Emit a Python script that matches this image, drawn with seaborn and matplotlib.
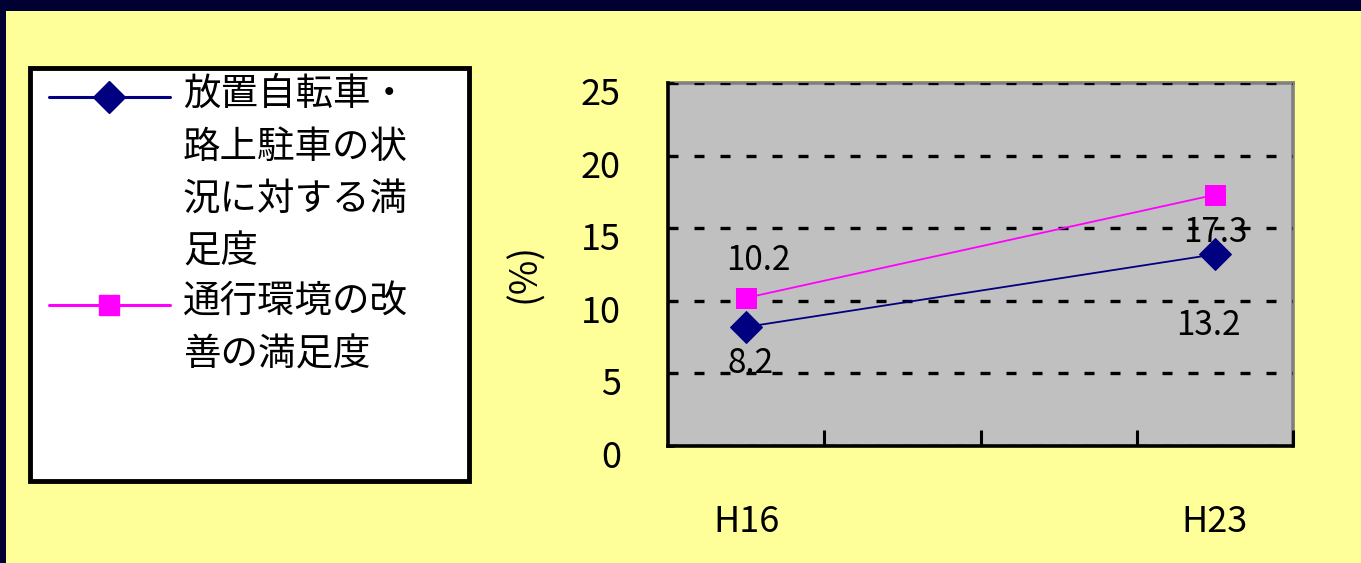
import matplotlib
matplotlib.use("Agg")
import matplotlib.pyplot as plt
from matplotlib.patches import Rectangle
from matplotlib.lines import Line2D
import matplotlib.transforms as mtransforms
import seaborn as sns
import pandas as pd

# ---- data ----
categories = ["H16", "", "", "H23"]
series_names = ["放置自転車・\n路上駐車の状\n況に対する満\n足度", "通行環境の改\n善の満足度"]
bicycle_values = [8.2, 13.2]     # at H16, H23
walkway_values = [10.2, 17.3]    # at H16, H23
value_categories = ["H16", "H23"]
y_ticks = [0, 5, 10, 15, 20, 25]
y_label = "(%)"

sns.set_theme(style="white")
plt.rcParams["font.family"] = ["Noto Sans CJK JP", "DejaVu Sans"]

W, H = 1361, 563
fig = plt.figure(figsize=(W / 100, H / 100), dpi=100)
fig.patch.set_facecolor("#000033")
fig.add_artist(Rectangle((6 / W, 0), 1, (H - 11) / H, transform=fig.transFigure,
                         facecolor="#FFFF99", edgecolor="none", zorder=-3))
fig.add_artist(Rectangle((30 / W, 1 - 481 / H), 439 / W, 413 / H, transform=fig.transFigure,
                         facecolor="white", edgecolor="black", linewidth=3.5, zorder=-2))

ax = fig.add_axes([668 / W, 1 - 446 / H, 625 / W, 363 / H])
ax.set_facecolor("#C0C0C0")

xpos = [categories.index(c) for c in value_categories]
df1 = pd.DataFrame({"x": xpos, "y": bicycle_values})
df2 = pd.DataFrame({"x": xpos, "y": walkway_values})

colors = ["#000080", "#FF00FF"]
markers = ["D", "s"]
msizes = [16, 14]

sns.lineplot(data=df1, x="x", y="y", ax=ax, color=colors[0], marker=markers[0], markersize=msizes[0],
             markeredgecolor=colors[0], linewidth=1.3, legend=False, zorder=3)
sns.lineplot(data=df2, x="x", y="y", ax=ax, color=colors[1], marker=markers[1], markersize=msizes[1],
             markeredgecolor=colors[1], linewidth=1.3, legend=False, zorder=3)

# data labels
lab_kw = dict(textcoords="offset points", ha="center", va="center", fontsize=24, color="black", zorder=4)
offs1 = [(3, -26), (-5, -51)]
offs2 = [(9, 27), (0, -27)]
for x, v, o in zip(xpos, bicycle_values, offs1):
    ax.annotate(f"{v}", (x, v), xytext=o, **lab_kw)
for x, v, o in zip(xpos, walkway_values, offs2):
    ax.annotate(f"{v}", (x, v), xytext=o, **lab_kw)

ax.set_xlim(-0.5, len(categories) - 0.5)
ax.set_ylim(y_ticks[0], y_ticks[-1])
ax.set_xticks(range(len(categories)), labels=categories)
ax.set_xticks([i + 0.5 for i in range(len(categories))], minor=True)
ax.set_yticks(y_ticks)
ax.tick_params(axis="x", which="major", length=0, pad=42, labelsize=26, colors="black")
ax.tick_params(axis="x", which="minor", bottom=True, direction="in", length=11.5, width=2.2, color="black")
ax.tick_params(axis="y", which="major", left=True, direction="in", length=4, width=2, pad=34,
               labelsize=26, colors="black")
offset = mtransforms.ScaledTranslation(0, -8 / 100, fig.dpi_scale_trans)
for lbl in ax.get_yticklabels():
    lbl.set_transform(lbl.get_transform() + offset)

ax.set_xlabel("")
ax.set_ylabel(y_label, fontsize=27, color="black")
ax.yaxis.set_label_coords((544 - 668) / 625, (446 - 273) / 363)

ax.yaxis.grid(True, color="black", linewidth=2.4, linestyle=(0, (3.0, 4.8)))
ax.xaxis.grid(False)
ax.set_axisbelow(True)

for s in ["left", "bottom"]:
    ax.spines[s].set_color("black")
    ax.spines[s].set_linewidth(2.6)
for s in ["top", "right"]:
    ax.spines[s].set_color("#808080")
    ax.spines[s].set_linewidth(2.6)
    ax.spines[s].set_zorder(0.1)

# legend drawn inside the white box, handle aligned with the first text line
row_centers = [97, 305]
for name, c, m, ms, yc in zip(series_names, colors, markers, msizes, row_centers):
    yf = 1 - yc / H
    fig.add_artist(Line2D([49 / W, 170 / W], [yf, yf], transform=fig.transFigure,
                          color=c, linewidth=2.2, zorder=5))
    fig.add_artist(Line2D([109 / W], [yf], transform=fig.transFigure, marker=m, markersize=ms,
                          color=c, markeredgecolor=c, linestyle="none", zorder=6))
    fig.text(183 / W, 1 - (yc - 22) / H, name, ha="left", va="top", fontsize=27,
             linespacing=1.45, color="black", zorder=6)

fig.savefig("out.png", dpi=100, facecolor=fig.get_facecolor())
